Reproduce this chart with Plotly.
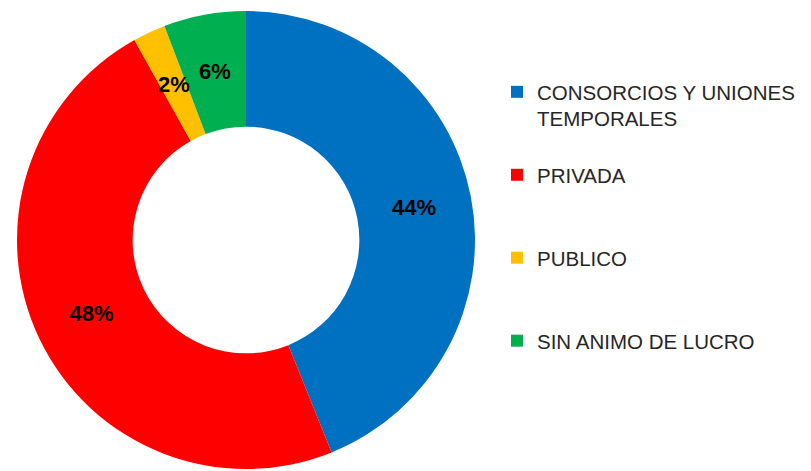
import math
import plotly.graph_objects as go

categories = ["CONSORCIOS Y UNIONES<br>TEMPORALES<br> ", "PRIVADA<br> <br> ", "PUBLICO<br> <br> ", "SIN ANIMO DE LUCRO"]
values = [43.9, 48.0, 2.3, 5.8]
colors = ["#0070C0", "#FF0000", "#FFC000", "#00B050"]

# page body has an 8px margin; the figure fills the rest of the 811x471 window
W, H = 803, 463
OFF = 8
R_PX = 229
CX, CY = 246 - OFF, 240 - OFF
HOLE = 0.495
FONT = "Liberation Sans, Arial, sans-serif"

small = [v / sum(values) < 0.1 for v in values]
textpos = ["none" if s else "inside" for s in small]

fig = go.Figure(go.Pie(
    labels=categories,
    values=values,
    hole=HOLE,
    sort=False,
    direction="clockwise",
    rotation=0,
    marker=dict(colors=colors, line=dict(color="white", width=0)),
    textinfo="percent",
    texttemplate="%{percent:.0%}",
    textposition=textpos,
    insidetextorientation="horizontal",
    textfont=dict(family=FONT, size=22, color="black", weight="bold"),
    domain=dict(x=[(CX - R_PX) / W, (CX + R_PX) / W],
                y=[1 - (CY + R_PX) / H, 1 - (CY - R_PX) / H]),
    hoverinfo="label+percent",
))

# labels for thin slices, placed at the middle of the ring on the slice's mid-angle
total = sum(values)
cum = 0.0
r_mid = R_PX * (1 + HOLE) / 2
for v, s in zip(values, small):
    theta = 2 * math.pi * (cum + v / 2) / total
    cum += v
    if not s:
        continue
    x_px = CX + r_mid * math.sin(theta)
    y_px = CY - r_mid * math.cos(theta)
    fig.add_annotation(
        x=x_px / W, y=1 - y_px / H, xref="paper", yref="paper",
        text=f"{round(100 * v / total)}%", showarrow=False,
        font=dict(family=FONT, size=22, color="black", weight="bold"),
        xanchor="center", yanchor="middle",
    )

fig.update_layout(
    width=W, height=H,
    margin=dict(l=0, r=0, t=0, b=0),
    paper_bgcolor="white",
    plot_bgcolor="white",
    uniformtext=dict(minsize=22, mode="show"),
    showlegend=True,
    legend=dict(
        x=489 / W, xanchor="left",
        y=1 - 64 / H, yanchor="top",
        valign="top",
        font=dict(family=FONT, size=20.5, color="#262626"),
        bgcolor="rgba(0,0,0,0)",
        traceorder="normal",
    ),
)

fig.write_html("out.html")
